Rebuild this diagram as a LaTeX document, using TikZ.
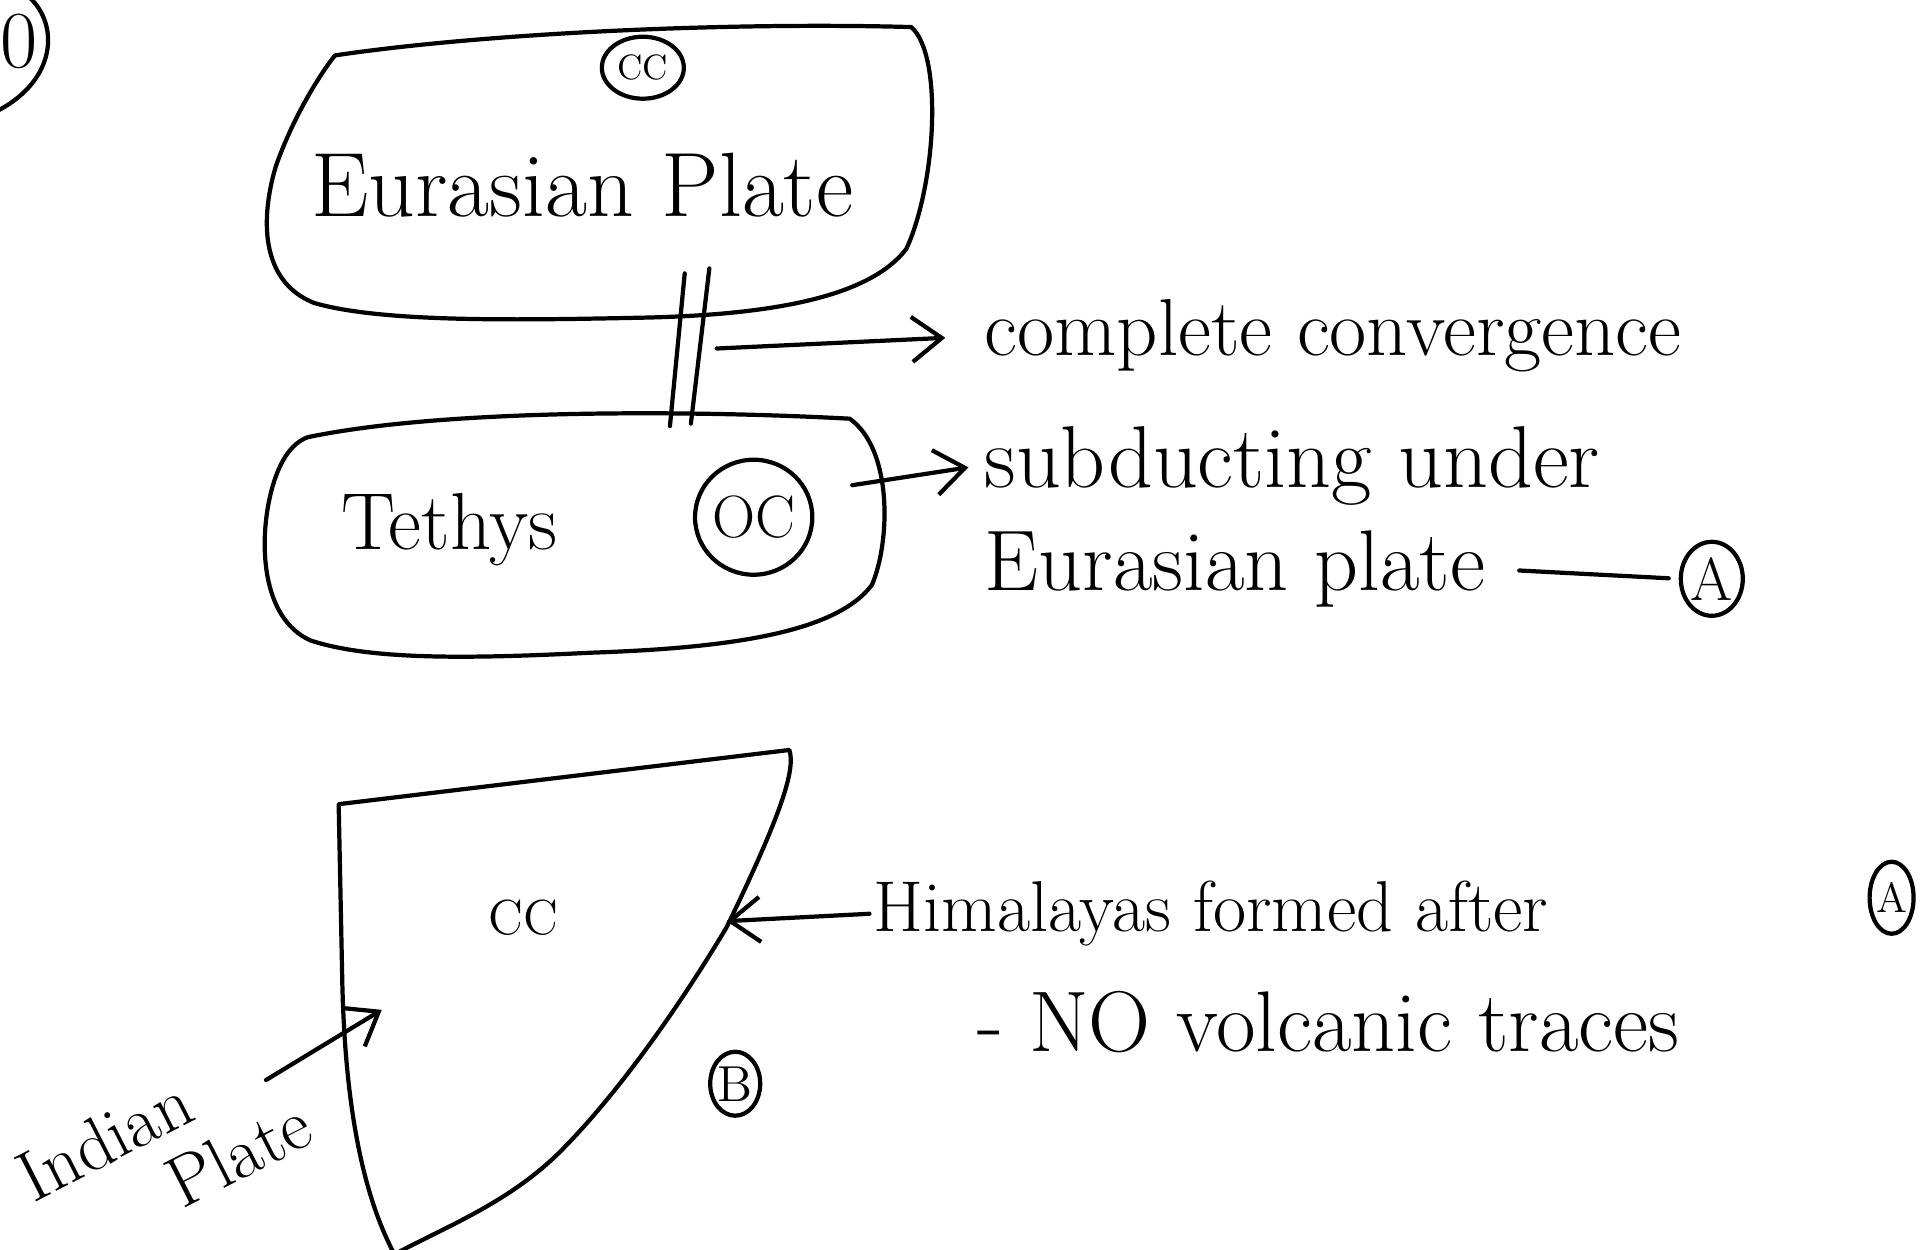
\documentclass[tikz,border=0pt]{standalone}
\usepackage{tikz}
\usetikzlibrary{shapes,arrows.meta,positioning,calc}

\tikzset{
  hand/.style={font=\fontsize{23}{27}\selectfont, inner sep=1pt},
  ring/.style={draw, very thick, ellipse, inner sep=0pt},
  pen/.style={very thick, line cap=round, line join=round},
  penarrow/.style={pen, -{Straight Barb[length=3mm,width=4.5mm]}}
}

\begin{document}
\begin{tikzpicture}[x=1.2315mm, y=-1.2315mm]
  \useasboundingbox (0,0) rectangle (156.8,101.5);

  % question number, cut at the page edge
  \node[hand] (qnum) at (1.55,3.4) {0};
  \draw[pen] (2.4,-0.2) .. controls (4.8,2.0) and (4.6,6.5) .. (-0.2,9.0);

  % Eurasian plate
  \draw[pen] (27.2,4.5) .. controls (40,2.6) and (60,1.8) .. (74.0,2.2)
    .. controls (76.6,4.5) and (76.0,15.0) .. (73.6,20.2)
    .. controls (70.5,24.3) and (62.0,25.6) .. (52.0,25.8)
    .. controls (42.0,26.0) and (31.0,26.2) .. (25.5,24.6)
    .. controls (21.0,22.8) and (21.2,17.5) .. (22.4,13.5)
    .. controls (23.8,9.5) and (26.0,6.0) .. (27.2,4.5);
  \node[hand, font=\fontsize{26}{30}\selectfont] (eura) at (47.3,15.0) {Eurasian Plate};
  \node[ring, minimum width=8.2mm, minimum height=6.2mm] (ccTop) at (52.2,5.5) {CC};

  % Tethys
  \draw[pen] (25.0,35.5) .. controls (36,33.2) and (56,33.3) .. (69.0,34.0)
    .. controls (72.5,36.5) and (72.3,44.0) .. (70.8,47.5)
    .. controls (68.0,51.2) and (60.0,52.6) .. (48.0,53.0)
    .. controls (38.0,53.5) and (30.0,53.6) .. (25.2,52.0)
    .. controls (21.2,50.2) and (21.0,44.0) .. (22.0,40.0)
    .. controls (22.6,37.6) and (23.6,36.0) .. (25.0,35.5);
  \node[hand] (tethys) at (36.5,43.0) {Tethys};
  \node[ring, font=\fontsize{17}{20}\selectfont, minimum width=11.5mm, minimum height=11.5mm] (oc) at (61.2,42.0) {OC};

  % the two plates meet
  \draw[pen] (55.6,22.2) -- (54.4,34.6);
  \draw[pen] (57.6,21.8) -- (56.1,34.4);

  % notes on the right
  \coordinate (cvTail) at (58.2,28.3);
  \node[hand, anchor=west] (conv) at (79.6,27.3) {complete convergence};
  \draw[penarrow, shorten >=3.5mm] (cvTail) -- (conv.west);

  \coordinate (sdTail) at (69.2,39.4);
  \node[hand, font=\fontsize{25}{29}\selectfont, anchor=west] (subd) at (79.6,37.8) {subducting under};
  \draw[penarrow, shorten >=1.2mm] (sdTail) -- (subd.west);
  \node[hand, font=\fontsize{24.5}{29}\selectfont, anchor=west] (eplate) at (79.6,46.2) {Eurasian plate};
  \node[ring, font=\LARGE, minimum width=6.2mm, minimum height=7.4mm] (aOne) at (139.0,47.0) {A};
  \draw[pen, shorten <=3mm, shorten >=1mm] (eplate.east) -- (aOne.west);

  % Indian plate
  \draw[pen] (31.9,101.6) .. controls (29.0,96) and (28.0,88) .. (27.8,80) -- (27.5,65.3) -- (64.1,60.9)
    .. controls (64.6,62.5) and (63.5,66) .. (59.0,75.3)
    .. controls (55,82) and (50,89) .. (45.5,93.5)
    .. controls (41.5,97.5) and (36.5,99.5) .. (32.5,101.6);
  \node[font=\fontsize{14}{17}\selectfont] (ccLow) at (42.5,74.5) {CC};
  \node[ring, font=\Large, minimum width=5mm, minimum height=6.4mm] (bMark) at (59.7,88.0) {B};

  \node[hand, font=\fontsize{20.5}{24}\selectfont, anchor=west] (hima) at (70.6,74.2) {Himalayas formed after};
  \coordinate (himTip) at (59.0,74.8);
  \draw[penarrow] (hima.west) -- (himTip);
  \node[ring, font=\large, minimum width=4.4mm, minimum height=7.2mm] (aTwo) at (153.6,72.9) {A};
  \node[hand, font=\fontsize{24.5}{29}\selectfont, anchor=west] (volc) at (79.0,83.0) {- NO volcanic traces};

  \node[hand, font=\fontsize{20.5}{21}\selectfont, rotate=27, align=left] (indian) at (13.3,93.4) {Indian\\\hspace*{1.8em}Plate};
  \coordinate (indTail) at (21.6,87.7);
  \coordinate (indTip) at (31.0,82.0);
  \draw[penarrow] (indTail) -- (indTip);
\end{tikzpicture}
\end{document}
